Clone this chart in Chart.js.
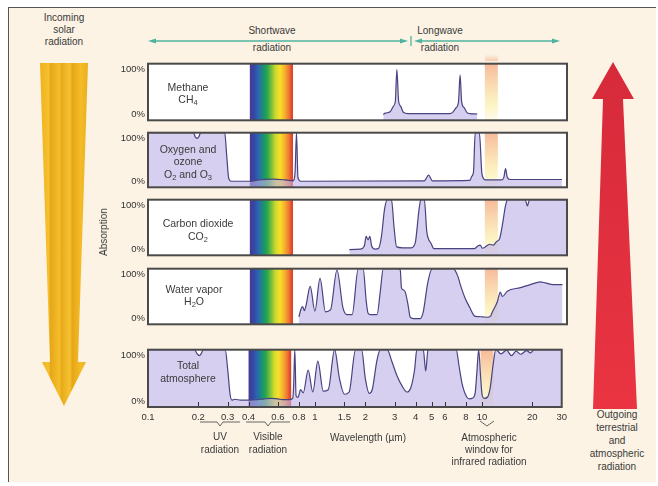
<!DOCTYPE html>
<html><head><meta charset="utf-8">
<script src="https://cdn.jsdelivr.net/npm/chart.js@4/dist/chart.umd.min.js"></script>
<style>
body{margin:0;width:658px;height:486px;background:#fff;position:relative;overflow:hidden;font-family:"Liberation Sans",Arial,sans-serif;color:#3a3a3a}
#frame{position:absolute;left:8px;top:7px;width:647px;height:474px;background:#fcf3e4;border-top:1.5px solid #555;border-left:1.5px solid #555}
canvas{position:absolute}
svg{position:absolute;left:0;top:0}
.t{position:absolute;font-size:10px;line-height:12px;text-align:center;white-space:nowrap;transform:translate(-50%,-50%)}
.p{font-size:10.5px}
.t sub{font-size:7.5px;vertical-align:-2px;line-height:0}
</style></head><body>
<div id="frame"></div>
<svg width="658" height="486">
  <defs>
    <linearGradient id="yel" x1="0" x2="1" y1="0" y2="0">
      <stop offset="0" stop-color="#f0b21c"/><stop offset="0.18" stop-color="#f5c030"/>
      <stop offset="0.22" stop-color="#e6a718"/><stop offset="0.4" stop-color="#f4bd2a"/>
      <stop offset="0.45" stop-color="#e8aa1a"/><stop offset="0.62" stop-color="#f5c231"/>
      <stop offset="0.67" stop-color="#e6a617"/><stop offset="0.85" stop-color="#f4bc28"/>
      <stop offset="1" stop-color="#eaae1e"/>
    </linearGradient>
    <linearGradient id="red" x1="0" x2="0" y1="0" y2="1">
      <stop offset="0" stop-color="#d62a3a"/><stop offset="1" stop-color="#ea3442"/>
    </linearGradient>
    <linearGradient id="win" x1="0" x2="0" y1="0" y2="1">
      <stop offset="0" stop-color="#f6c9a8" stop-opacity="0"/><stop offset="1" stop-color="#f4b896" stop-opacity="0.7"/>
    </linearGradient>
  </defs>
  <polygon points="40,63 88,63 78,362 86,362 64,406 42,362 50,362" fill="url(#yel)"/>
  <polygon points="593,409 637,409 623,99 634,99 613,62 592,99 603,99" fill="url(#red)"/>
  <rect x="485" y="54" width="13" height="7" fill="url(#win)"/>
  <g stroke="#4fb3a0" stroke-width="1.3" fill="#4fb3a0">
    <line x1="152" y1="41" x2="404" y2="41"/>
    <polygon points="148,41 156,38.5 156,43.5" stroke="none"/>
    <polygon points="408,41 400,38.5 400,43.5" stroke="none"/>
    <line x1="411" y1="36" x2="411" y2="46"/>
    <line x1="418" y1="41" x2="556" y2="41"/>
    <polygon points="414,41 422,38.5 422,43.5" stroke="none"/>
    <polygon points="560,41 552,38.5 552,43.5" stroke="none"/>
  </g>
  <g stroke="#555" stroke-width="0.9" fill="none">
    <polyline points="200,422 217,422 220,426 223,422 240,422"/>
    <polyline points="246,422 265,422 268,426 271,422 290,422"/>
    <polyline points="480,421 487,426 494,421"/>
  </g>
</svg>
<canvas id="c1"></canvas><canvas id="c2"></canvas><canvas id="c3"></canvas><canvas id="c4"></canvas><canvas id="c5"></canvas>

<div class="t" style="left:64px;top:18px">Incoming</div>
<div class="t" style="left:64px;top:30px">solar</div>
<div class="t" style="left:64px;top:42px">radiation</div>
<div class="t" style="left:272px;top:31px">Shortwave</div>
<div class="t" style="left:272px;top:48px">radiation</div>
<div class="t" style="left:440px;top:31px">Longwave</div>
<div class="t" style="left:440px;top:48px">radiation</div>
<div class="t" style="left:104px;top:232px;transform:translate(-50%,-50%) rotate(-90deg)">Absorption</div>

<div class="t p" style="left:188px;top:87px">Methane</div>
<div class="t p" style="left:188px;top:99px">CH<sub>4</sub></div>
<div class="t p" style="left:188px;top:149px">Oxygen and</div>
<div class="t p" style="left:188px;top:161px">ozone</div>
<div class="t p" style="left:188px;top:174px">O<sub>2</sub> and O<sub>3</sub></div>
<div class="t p" style="left:198px;top:223px">Carbon dioxide</div>
<div class="t p" style="left:198px;top:236px">CO<sub>2</sub></div>
<div class="t p" style="left:194px;top:289px">Water vapor</div>
<div class="t p" style="left:194px;top:301px">H<sub>2</sub>O</div>
<div class="t p" style="left:188px;top:365px">Total</div>
<div class="t p" style="left:188px;top:378px">atmosphere</div>

<div class="t" style="left:220px;top:437px">UV</div>
<div class="t" style="left:220px;top:450px">radiation</div>
<div class="t" style="left:268px;top:437px">Visible</div>
<div class="t" style="left:268px;top:450px">radiation</div>
<div class="t" style="left:368px;top:438px">Wavelength (µm)</div>
<div class="t" style="left:489px;top:438px">Atmospheric</div>
<div class="t" style="left:489px;top:450px">window for</div>
<div class="t" style="left:489px;top:462px">infrared radiation</div>
<div class="t" style="left:617px;top:415px">Outgoing</div>
<div class="t" style="left:617px;top:428px">terrestrial</div>
<div class="t" style="left:617px;top:441px">and</div>
<div class="t" style="left:617px;top:454px">atmospheric</div>
<div class="t" style="left:617px;top:467px">radiation</div>

<script>
// ---- axis ticks ----
const tickValues = [0.1,0.2,0.3,0.4,0.6,0.8,1,1.5,2,3,4,5,6,8,10,20,30];
const tickLabels = ['0.1','0.2','0.3','0.4','0.6','0.8','1','1.5','2','3','4','5','6','8','10','20','30'];
const yTicks = [0,100];
const visibleBand = [0.4,0.72];
const windowBand = [9.8,11.7];

// ---- Methane CH4 (wavelength µm, absorption %) ----
const ch4Wl  = [2.46,2.53,2.7,2.82,2.9,2.96,3.03,3.12,3.23,3.45,6.1,6.3,6.6,6.85,7.0,7.15,7.4,7.7,8.0,8.85];
const ch4Abs = [0,3,6,18,30,100,30,18,5,2,2,4,14,28,88,28,15,4,2,1];

// ---- Oxygen and ozone ----
const o3Wl  = [0.1,0.186,0.19,0.195,0.2,0.205,0.284,0.292,0.3,0.31,0.4,0.45,0.55,0.65,0.72,0.74,0.755,0.77,0.8,4.3,4.56,4.8,8.0,8.2,8.4,8.6,9.1,9.4,9.6,9.9,12.3,12.7,13.0,13.3,13.8,28];
const o3Abs = [113,113,104,100,104,113,113,60,8,1,1,4,6,4,2,20,113,10,1,2,15,2,3,12,22,113,113,22,8,4,4,10,30,10,5,5];

// ---- Carbon dioxide ----
const co2Wl  = [1.55,1.8,1.9,1.95,2.0,2.05,2.1,2.2,2.3,2.4,2.5,2.6,2.75,2.85,2.95,3.2,3.6,3.8,4.0,4.1,4.3,4.45,4.6,4.7,4.9,8.5,8.9,9.2,9.5,10.5,11.0,11.5,12.0,12.5,13.0,13.4,17.0,17.5,18.0,30];
const co2Abs = [0,1,8,30,22,30,8,1,2,30,90,113,113,50,6,4,4,15,90,113,113,40,20,15,2,2,8,10,3,12,10,18,25,60,100,113,113,99,113,113];

// ---- Water vapor ----
const h2oWl  = [0.78,0.8,0.82,0.84,0.86,0.91,0.97,1.04,1.12,1.2,1.31,1.42,1.5,1.61,1.75,1.87,1.95,2.0,2.06,2.26,2.36,2.46,3.0,3.1,3.15,3.23,3.32,3.45,3.55,3.7,4.07,4.24,4.5,4.79,6.38,6.8,7.02,7.52,8.04,8.38,8.61,9.5,10.14,10.56,10.86,11.62,12.1,12.45,13.31,15.9,18.2,20.9,22.3,24.9,28.2];
const h2oAbs = [4,20,27,18,30,73,17,91,15,20,110,25,9,9,113,113,40,12,9,9,60,113,113,110,70,65,60,30,3,0,0,15,80,113,113,95,77,45,23,9,5,4,3,5,15,38,60,50,62,70,77,83,81,77,77];

// ---- Total atmosphere ----
const totWl  = [0.1,0.19,0.197,0.203,0.208,0.214,0.29,0.3,0.31,0.318,0.33,0.36,0.4,0.45,0.5,0.55,0.6,0.65,0.7,0.735,0.745,0.757,0.77,0.79,0.82,0.85,0.91,0.97,1.04,1.12,1.2,1.31,1.4,1.5,1.6,1.75,1.9,2.0,2.11,2.2,2.35,2.46,2.7,2.9,3.1,3.3,3.55,3.75,3.95,4.07,4.45,4.6,4.75,7.0,7.3,7.6,8.1,8.4,8.8,9.1,9.3,9.55,9.8,10.0,10.3,10.8,11.2,11.6,12.1,13,14,15,16,17,18.5,19.5,20.5,30];
const totAbs = [113,113,104,100,104,113,113,70,15,2,4,2,2,3,5,6,5,3,3,6,35,113,12,8,25,18,68,20,88,22,25,113,50,15,20,113,113,50,17,25,90,113,113,85,55,35,20,30,70,113,113,66,113,113,75,38,9,5,7,18,60,113,55,15,6,9,30,75,113,104,112,100,110,103,111,106,113,113];

const panels = [
  {id:'c1', top:61, h:62, wl:ch4Wl, abs:ch4Abs},
  {id:'c2', top:130, h:60, wl:o3Wl, abs:o3Abs},
  {id:'c3', top:197, h:61, wl:co2Wl, abs:co2Abs},
  {id:'c4', top:266, h:61, wl:h2oWl, abs:h2oAbs},
  {id:'c5', top:347, h:60, wl:totWl, abs:totAbs, axis:true}
];

const rainbowStops = [[0,'#463a8c'],[0.1,'#3548a6'],[0.2,'#2a68b0'],[0.3,'#1b8c7a'],[0.4,'#27a64c'],[0.5,'#78bf3e'],[0.6,'#d2da2e'],[0.7,'#f7e02a'],[0.8,'#f6b430'],[0.9,'#ef7c31'],[0.97,'#e2472d'],[1,'#d8402c']];

const bandsPlugin = {
  id:'bands',
  beforeDatasetsDraw(chart){
    const {ctx, chartArea:a, scales:{x}} = chart;
    ctx.save();
    ctx.fillStyle = '#ffffff';
    ctx.fillRect(a.left, a.top, a.right-a.left, a.bottom-a.top);
    const x0 = x.getPixelForValue(visibleBand[0]), x1 = x.getPixelForValue(visibleBand[1]);
    const g = ctx.createLinearGradient(x0,0,x1,0);
    rainbowStops.forEach(s=>g.addColorStop(s[0],s[1]));
    ctx.fillStyle = g;
    ctx.fillRect(x0, a.top, x1-x0, a.bottom-a.top);
    const w0 = x.getPixelForValue(windowBand[0]), w1 = x.getPixelForValue(windowBand[1]);
    const g2 = ctx.createLinearGradient(0,a.top,0,a.bottom);
    g2.addColorStop(0,'rgba(244,168,128,0.8)');
    g2.addColorStop(0.45,'rgba(249,212,150,0.7)');
    g2.addColorStop(0.75,'rgba(250,238,160,0.6)');
    g2.addColorStop(1,'rgba(253,246,215,0.5)');
    ctx.fillStyle = g2;
    ctx.fillRect(w0, a.top, w1-w0, a.bottom-a.top);
    ctx.restore();
  },
  afterDraw(chart, args, opts){
    const {ctx, chartArea:a, scales:{x}} = chart;
    ctx.save();
    if (opts.innerTicks){
      ctx.strokeStyle = '#333'; ctx.lineWidth = 1;
      tickValues.slice(1,-1).forEach(v=>{
        const px = Math.round(x.getPixelForValue(v))+0.5;
        ctx.beginPath(); ctx.moveTo(px, a.bottom); ctx.lineTo(px, a.bottom-5); ctx.stroke();
      });
    }
    ctx.strokeStyle = '#4a4a4a'; ctx.lineWidth = 2;
    ctx.strokeRect(a.left, a.top, a.right-a.left, a.bottom-a.top);
    ctx.restore();
  }
};

const font = {family:'"Liberation Sans", Arial, sans-serif', size:9.5};

panels.forEach(p=>{
  const cv = document.getElementById(p.id);
  const padT = 6, padB = 6, axisH = p.axis ? 21 : 0;
  cv.width = 472;
  cv.height = p.h + padT + (p.axis ? axisH : padB);
  cv.style.left = '100px';
  cv.style.top = (p.top - padT) + 'px';
  new Chart(cv, {
    type:'line',
    data:{datasets:[{
      data: p.wl.map((w,i)=>({x:w, y:p.abs[i]})),
      borderColor:'#47437f', borderWidth:1.2,
      backgroundColor:'rgba(190,178,230,0.62)',
      fill:'start', pointRadius:0, cubicInterpolationMode:'monotone'
    }]},
    options:{
      responsive:false, animation:false, devicePixelRatio:1,
      layout:{padding:{top:padT, bottom:p.axis?0:padB, left:0, right:5}},
      plugins:{legend:{display:false}, tooltip:{enabled:false}, bands:{innerTicks:!!p.axis}},
      scales:{
        x:{type:'logarithmic', min:0.1, max:30, display:!!p.axis,
           grid:{display:false, drawTicks:false}, border:{display:false},
           afterBuildTicks:s=>{s.ticks = tickValues.map(v=>({value:v}));},
           afterFit:s=>{s.height = axisH;},
           ticks:{autoSkip:false, maxRotation:0, minRotation:0, padding:5, color:'#333', font,
                  callback:(v,i)=>tickLabels[i]}},
        y:{min:-13, max:113, grid:{display:false, drawTicks:false}, border:{display:false},
           afterBuildTicks:s=>{s.ticks = yTicks.map(v=>({value:v}));},
           afterFit:s=>{s.width = 48;},
           ticks:{padding:3, color:'#333', font:{family:font.family, size:9.5}, callback:v=>v+'%'}}
      }
    },
    plugins:[bandsPlugin]
  });
});
</script>
</body></html>
